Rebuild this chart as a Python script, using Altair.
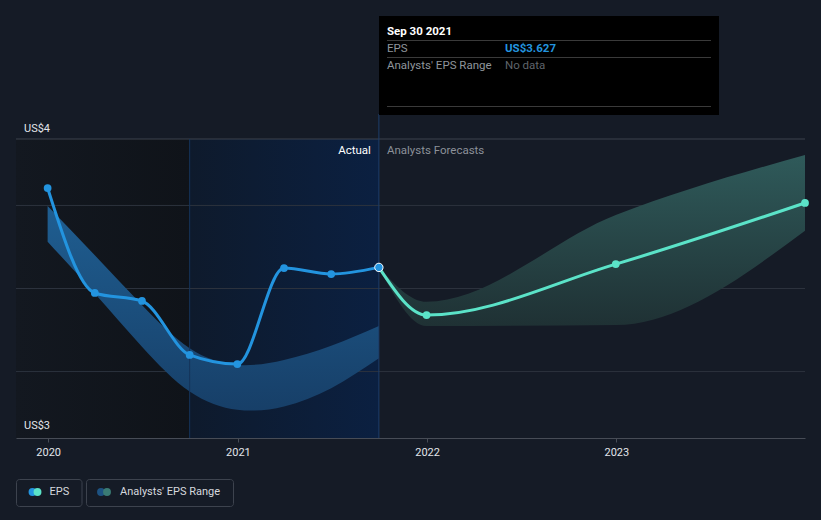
import altair as alt
import pandas as pd

# ---- data ----
actual_dates = ["2019-12-31", "2020-03-31", "2020-06-30", "2020-09-30",
                "2020-12-31", "2021-03-31", "2021-06-30", "2021-09-30"]
actual_eps = [4.105, 3.473, 3.425, 3.100, 3.045, 3.623, 3.587, 3.627]
past_low = [3.782, 3.47, 3.15, 2.88, 2.77, 2.79, 2.90, 3.08]
past_high = [3.997, 3.70, 3.40, 3.14, 3.04, 3.07, 3.155, 3.274]

fc_dates = ["2021-09-30", "2021-12-31", "2022-12-31", "2023-12-31"]
fc_eps = [3.627, 3.34, 3.647, 4.015]
fc_low = [3.627, 3.274, 3.28, 3.848]
fc_high = [3.627, 3.42, 3.942, 4.304]

grid_values = [3.0, 3.5, 4.0]
year_ticks = ["2020-01-01", "2021-01-01", "2022-01-01", "2023-01-01"]
axis_labels = ["US$4", "US$3"]
axis_label_values = [4.395, 2.605]

# ---- frames ----
act = pd.DataFrame({"date": actual_dates, "eps": actual_eps, "low": past_low, "high": past_high})
fc = pd.DataFrame({"date": fc_dates, "eps": fc_eps, "low": fc_low, "high": fc_high})
last = act.tail(1)
grid = pd.DataFrame({"v": grid_values})
ylab = pd.DataFrame({"v": axis_label_values, "t": axis_labels})
one = alt.Data(values=[{}])

W, H = 789, 299
X_DOMAIN = ["2019-10-31", "2023-12-31"]
xs = alt.Scale(domain=X_DOMAIN)
ys = alt.Scale(domain=[2.6, 4.4])
FONT = "Roboto"

xenc = alt.X("date:T", scale=xs, axis=alt.Axis(
    values=year_ticks, format="%Y", grid=False, title=None,
    domainColor="#474c56", tickColor="#474c56", tickSize=4,
    labelColor="#e2e5ea", labelFontSize=11, labelFont=FONT, labelPadding=4,
))

# background regions
bg_left = alt.Chart(pd.DataFrame({"date": [X_DOMAIN[0]], "end": ["2020-09-30"]})).mark_rect(
    fill=alt.LinearGradient(gradient="linear", x1=0, x2=1, y1=0, y2=0,
                            stops=[alt.GradientStop(color="#131820", offset=0),
                                   alt.GradientStop(color="#0f1319", offset=1)])
).encode(x=alt.X("date:T", scale=xs), x2="end:T", y=alt.value(0), y2=alt.value(H))

bg_actual = alt.Chart(pd.DataFrame({"date": ["2020-09-30"], "end": ["2021-09-30"]})).mark_rect(
    fill=alt.LinearGradient(gradient="linear", x1=0, x2=1, y1=0, y2=0,
                            stops=[alt.GradientStop(color="#0e1a2c", offset=0),
                                   alt.GradientStop(color="#0b2041", offset=1)])
).encode(x=alt.X("date:T", scale=xs), x2="end:T", y=alt.value(0), y2=alt.value(H))

gridlines = alt.Chart(grid).mark_rule(color="#2c323d", strokeWidth=1).encode(
    y=alt.Y("v:Q", scale=ys, axis=None))
topline = alt.Chart(one).mark_rule(color="#3c424d", strokeWidth=1).encode(
    y=alt.value(0), x=alt.value(0), x2=alt.value(W))

past_band = alt.Chart(act).mark_area(
    interpolate="natural",
    fill=alt.LinearGradient(gradient="linear", x1=0, x2=0, y1=0, y2=1,
                            stops=[alt.GradientStop(color="#1f5e91", offset=0),
                                   alt.GradientStop(color="#173f68", offset=1)])
).encode(x=alt.X("date:T", scale=xs), y=alt.Y("high:Q", scale=ys), y2="low:Q")

fc_band = alt.Chart(fc).mark_area(
    interpolate="monotone",
    fill=alt.LinearGradient(gradient="linear", x1=0, x2=0, y1=0, y2=1,
                            stops=[alt.GradientStop(color="#2f5a5a", offset=0),
                                   alt.GradientStop(color="#1f3134", offset=1)])
).encode(x=alt.X("date:T", scale=xs), y=alt.Y("high:Q", scale=ys), y2="low:Q")

vline_start = alt.Chart(pd.DataFrame({"date": ["2020-09-30"]})).mark_rule(
    color="#15335a", strokeWidth=1).encode(x=alt.X("date:T", scale=xs), y=alt.value(0), y2=alt.value(H))
vline_now = alt.Chart(last).mark_rule(color="#1d3e6b", strokeWidth=1).encode(
    x=alt.X("date:T", scale=xs), y=alt.value(-25), y2=alt.value(H))

act_line = alt.Chart(act).mark_line(color="#2394df", strokeWidth=3, interpolate="monotone").encode(
    x=alt.X("date:T", scale=xs), y=alt.Y("eps:Q", scale=ys))
act_pts = alt.Chart(act).mark_circle(color="#2394df", size=60, opacity=1).encode(
    x=alt.X("date:T", scale=xs), y=alt.Y("eps:Q", scale=ys))
fc_line = alt.Chart(fc).mark_line(color="#5be3c8", strokeWidth=3, interpolate="monotone").encode(
    x=alt.X("date:T", scale=xs), y=alt.Y("eps:Q", scale=ys))
fc_pts = alt.Chart(fc.iloc[1:]).mark_circle(color="#5be3c8", size=60, opacity=1).encode(
    x=alt.X("date:T", scale=xs), y=alt.Y("eps:Q", scale=ys))
hi_pt = alt.Chart(last).mark_point(filled=True, fill="#2394df", stroke="#ffffff", strokeWidth=1,
                                   size=70, opacity=1, shape="circle").encode(
    x=alt.X("date:T", scale=xs), y=alt.Y("eps:Q", scale=ys))

txt_actual = alt.Chart(last).mark_text(align="right", baseline="middle", dx=-8, color="#ffffff",
                                       fontSize=11.5, font=FONT).encode(
    x=alt.X("date:T", scale=xs), y=alt.value(12), text=alt.value("Actual"))
txt_fc = alt.Chart(last).mark_text(align="left", baseline="middle", dx=8, color="#8c9199",
                                   fontSize=11.5, font=FONT).encode(
    x=alt.X("date:T", scale=xs), y=alt.value(12), text=alt.value("Analysts Forecasts"))

ylabels = alt.Chart(ylab).mark_text(align="left", baseline="bottom", dy=-6, color="#e2e5ea",
                                    fontSize=11, font=FONT).encode(
    x=alt.value(8), y=alt.Y("v:Q", scale=ys), text="t:N")

# tooltip panel
tip_box = alt.Chart(one).mark_rect(fill="#000000").encode(
    x=alt.value(363), x2=alt.value(703), y=alt.value(-123), y2=alt.value(-24))
tip_seps = [alt.Chart(one).mark_rule(color="#3a3a3a", strokeWidth=1).encode(
    x=alt.value(371), x2=alt.value(695), y=alt.value(yv)) for yv in (-98.5, -81.5, -32.5)]
def tip_text(txt, x, y, color, bold=False):
    return alt.Chart(one).mark_text(align="left", baseline="middle", color=color, fontSize=11.5,
                                    font=FONT, fontWeight="bold" if bold else "normal").encode(
        x=alt.value(x), y=alt.value(y), text=alt.value(txt))
tips = [
    tip_text("Sep 30 2021", 371, -107.5, "#ffffff", True),
    tip_text("EPS", 371, -90, "#8f959c"),
    tip_text("US$3.627", 489, -90, "#2394df", True),
    tip_text("Analysts' EPS Range", 371, -73.5, "#8f959c"),
    tip_text("No data", 489, -73.5, "#5f646b"),
]

# legend
def leg_box(x1, x2):
    return alt.Chart(one).mark_rect(fill="#151b26", stroke="#3d434e", strokeWidth=1, cornerRadius=3).encode(
        x=alt.value(x1), x2=alt.value(x2), y=alt.value(340.5), y2=alt.value(367.5))
def leg_dot(x, color):
    return alt.Chart(one).mark_circle(color=color, size=62, opacity=1).encode(
        x=alt.value(x), y=alt.value(353))
legend = [
    leg_box(0.5, 66), leg_box(70.5, 217.5),
    leg_dot(16.5, "#2394df"), leg_dot(21.5, "#5be3c8"),
    leg_dot(85, "#1d5282"), leg_dot(91, "#3a7b74"),
    alt.Chart(one).mark_text(align="left", baseline="middle", color="#d5d9df", fontSize=11, font=FONT).encode(
        x=alt.value(33.5), y=alt.value(353), text=alt.value("EPS")),
    alt.Chart(one).mark_text(align="left", baseline="middle", color="#d5d9df", fontSize=11, font=FONT).encode(
        x=alt.value(104), y=alt.value(353), text=alt.value("Analysts' EPS Range")),
]

base_axis = alt.Chart(act).mark_point(opacity=0).encode(x=xenc, y=alt.Y("eps:Q", scale=ys, axis=None))

chart = alt.layer(
    bg_left, bg_actual, base_axis, gridlines, topline, past_band, fc_band,
    vline_start, vline_now, act_line, fc_line, act_pts, fc_pts, hi_pt,
    txt_actual, txt_fc, ylabels, tip_box, *tip_seps, *tips, *legend,
).properties(
    width=W, height=H,
    padding={"left": 16, "top": 139, "right": 16, "bottom": 82},
    autosize=alt.AutoSizeParams(type="none"),
    background="#151b26",
).configure_view(stroke=None)

chart.save("out.html", embed_options={"renderer": "svg", "actions": False})
